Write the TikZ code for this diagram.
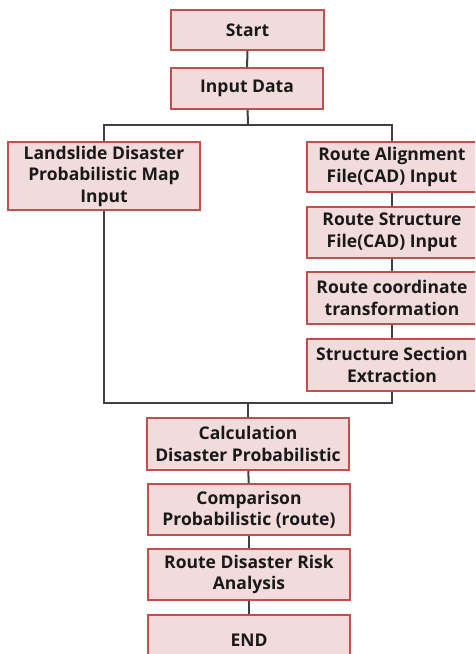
\documentclass[tikz,border=0pt]{standalone}
\usepackage{fontspec}
\setmainfont{Open Sans}
\begin{document}
\begin{tikzpicture}[x=1pt,y=-1pt,
  stepbox/.style={draw=boxedge, line width=1.6pt, fill=boxfill, text=black!90,
    align=center, inner sep=0pt, font=\fontsize{17.5}{21.5}\selectfont\bfseries},
  link/.style={draw=linegray, line width=2pt}]
\definecolor{boxfill}{HTML}{F2DCDB}
\definecolor{boxedge}{HTML}{C0504D}
\definecolor{linegray}{HTML}{404040}
\useasboundingbox (0,0) rectangle (475,654);
\clip (0,0) rectangle (475,654);

% main column
\node[stepbox, minimum width=153pt, minimum height=40pt] (start) at (247.5,30) {Start};
\node[stepbox, minimum width=152pt, minimum height=41pt] (input) at (247,88.5) {Input Data};

% left branch
\node[stepbox, minimum width=192pt, minimum height=68pt] (land) at (104,176)
  {Landslide Disaster\\Probabilistic Map\\Input};

% right branch
\node[stepbox, minimum width=170pt, minimum height=50pt] (align) at (392,167)
  {Route Alignment\\File(CAD) Input};
\node[stepbox, minimum width=170pt, minimum height=51pt] (struct) at (392,232.5)
  {Route Structure\\File(CAD) Input};
\node[stepbox, minimum width=170pt, minimum height=52pt] (coord) at (392,298)
  {Route coordinate\\transformation};
\node[stepbox, minimum width=170pt, minimum height=52pt] (sect) at (392,365)
  {Structure Section\\Extraction};

% lower column
\node[stepbox, minimum width=202pt, minimum height=52pt] (calc) at (248,444)
  {Calculation\\Disaster Probabilistic};
\node[stepbox, minimum width=202pt, minimum height=51pt] (comp) at (249,509.5)
  {Comparison\\Probabilistic (route)};
\node[stepbox, minimum width=202pt, minimum height=51pt] (risk) at (249,574.5)
  {Route Disaster Risk\\Analysis};
\node[stepbox, minimum width=202pt, minimum height=50pt] (end) at (249,640) {END};

\coordinate (split) at (248,125);
\coordinate (merge) at (248,403);

% connectors
\draw[link] (start) -- (input);
\draw[link] (input) -- (split);
\draw[link] (land.north) |- (split) -| (align.north);
\draw[link] (align) -- (struct);
\draw[link] (struct) -- (coord);
\draw[link] (coord) -- (sect);
\draw[link] (land.south) |- (merge) -| (sect.south);
\draw[link] (merge) -- (calc.north);
\draw[link] (calc) -- (comp);
\draw[link] (comp) -- (risk);
\draw[link] (risk) -- (end);
\end{tikzpicture}
\end{document}
